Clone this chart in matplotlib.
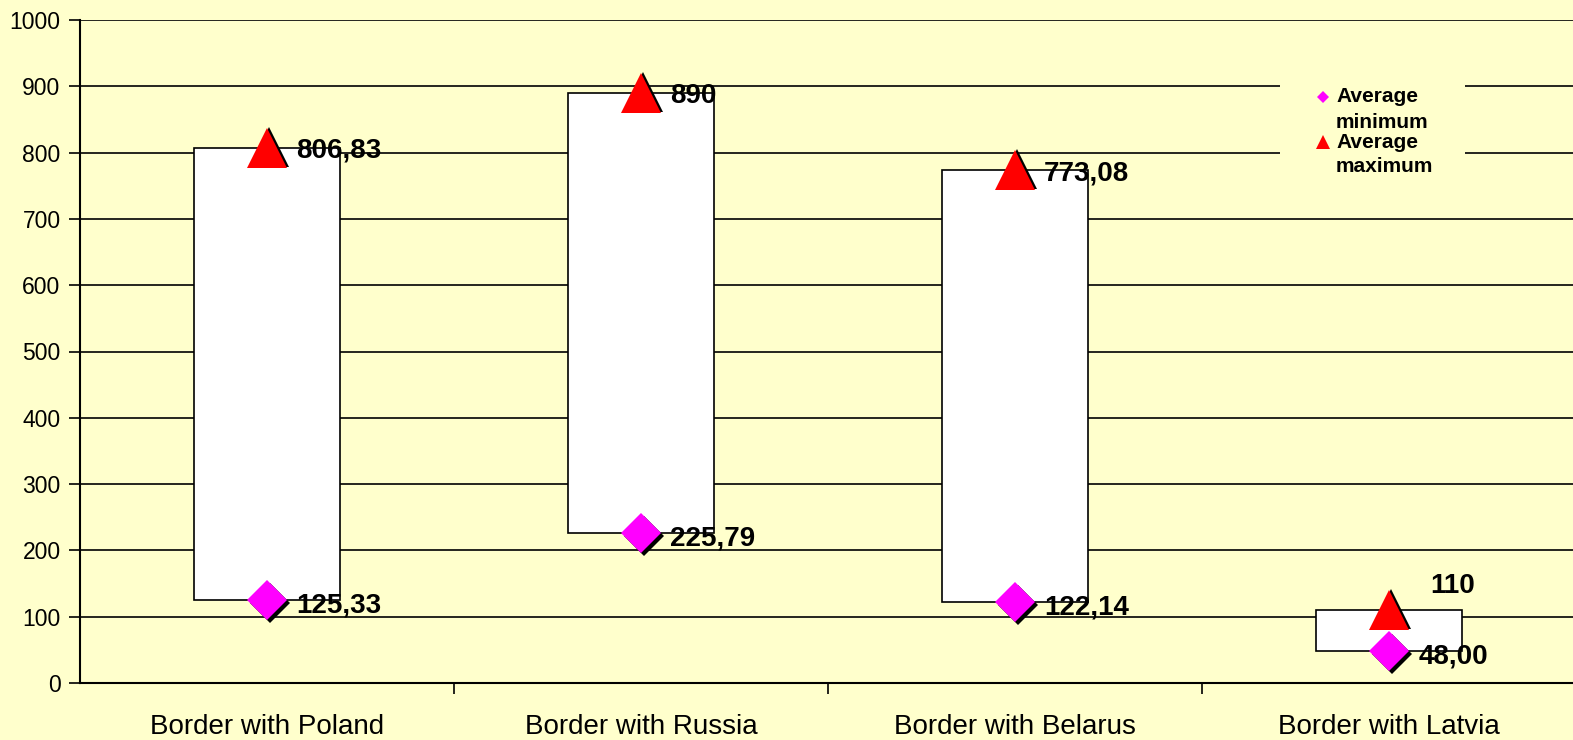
import matplotlib.pyplot as plt
import matplotlib.transforms as mtransforms
from matplotlib.patches import Rectangle

# dane
categories = ["Border with Poland", "Border with Russia", "Border with Belarus", "Border with Latvia"]
avg_min = [125.33, 225.79, 122.14, 48.00]
avg_max = [806.83, 890, 773.08, 110]
min_labels = ["125,33", "225,79", "122,14", "48,00"]
max_labels = ["806,83", "890", "773,08", "110"]
legend_labels = [("Average", "minimum"), ("Average", "maximum")]

bg = '#FFFFCC'
plt.rcParams['font.family'] = ['Liberation Sans', 'DejaVu Sans']

W, H = 1573, 740
fig = plt.figure(figsize=(W / 100, H / 100), dpi=100, facecolor=bg)
ax = fig.add_axes([80 / W, 57 / H, 1496 / W, 663 / H], facecolor=bg)

x = list(range(len(categories)))
heights = [mx - mn for mn, mx in zip(avg_min, avg_max)]
ax.bar(x, heights, bottom=avg_min, width=0.393, color='white', edgecolor='black',
       linewidth=1.2, zorder=2)

# cien pod markerami
shadow = mtransforms.offset_copy(ax.transData, fig=fig, x=3, y=-3, units='dots')
ax.plot(x, avg_min, linestyle='none', marker='D', markersize=20, color='black',
        markeredgewidth=0, transform=shadow, zorder=3)
ax.plot(x, avg_min, linestyle='none', marker='D', markersize=20, color='#FF00FF',
        markeredgewidth=0, zorder=4)
shadow2 = mtransforms.offset_copy(ax.transData, fig=fig, x=2, y=1, units='dots')
ax.plot(x, avg_max, linestyle='none', marker='^', markersize=29, color='black',
        markeredgewidth=0, transform=shadow2, zorder=3)
ax.plot(x, avg_max, linestyle='none', marker='^', markersize=29, color='#FF0000',
        markeredgewidth=0, zorder=4)

for i in x:
    ax.annotate(min_labels[i], (i, avg_min[i]), xytext=(21, -4), textcoords='offset points',
                fontsize=20, fontweight='bold', va='center', ha='left', zorder=5)
    if i == len(x) - 1:
        ax.annotate(max_labels[i], (i, avg_max[i]), xytext=(30, 17), textcoords='offset points',
                    fontsize=20, fontweight='bold', va='center', ha='left', zorder=5)
    else:
        ax.annotate(max_labels[i], (i, avg_max[i]), xytext=(21, -2), textcoords='offset points',
                    fontsize=20, fontweight='bold', va='center', ha='left', zorder=5)

ax.set_xlim(-0.5, 3.5)
ax.set_ylim(0, 1000)
ax.set_yticks(range(0, 1001, 100))
ax.grid(axis='y', color='black', linewidth=1.2, zorder=0)
ax.set_axisbelow(True)

ax.set_xticks([0.5, 1.5, 2.5])
ax.set_xticklabels([])
ax.set_xticks(x, minor=True)
ax.set_xticklabels(categories, minor=True, fontsize=20)
ax.tick_params(axis='x', which='minor', length=0, pad=22)
ax.tick_params(axis='x', which='major', length=8, width=1.2, direction='out')
ax.tick_params(axis='y', length=8, width=1.2, labelsize=16.5, pad=6)

ax.spines['top'].set_visible(False)
ax.spines['right'].set_visible(False)
ax.spines['left'].set_linewidth(1.5)
ax.spines['bottom'].set_linewidth(1.5)

# legenda recznie: tlo zaslania linie siatki
ax.add_patch(Rectangle((1280 / W, (H - 183) / H), 185 / W, 108 / H,
                       transform=fig.transFigure, facecolor=bg, edgecolor='none',
                       zorder=5, clip_on=False))
leg_markers = [('D', '#FF00FF', 6.5), ('^', '#FF0000', 9.5)]
for k, ((m, c, ms), (l1, l2)) in enumerate(zip(leg_markers, legend_labels)):
    y1 = 97 + k * 45
    ax.plot([1323 / W], [(H - y1) / H], marker=m, color=c, markersize=ms,
            markeredgewidth=0, transform=fig.transFigure, clip_on=False, zorder=6)
    ax.text(1336 / W, (H - y1) / H, l1, transform=fig.transFigure, fontsize=15,
            fontweight='bold', va='center', ha='left', zorder=6)
    ax.text(1336 / W, (H - y1 - 25) / H, l2, transform=fig.transFigure, fontsize=15,
            fontweight='bold', va='center', ha='left', zorder=6)

fig.savefig('out.png', dpi=100, facecolor=bg)
